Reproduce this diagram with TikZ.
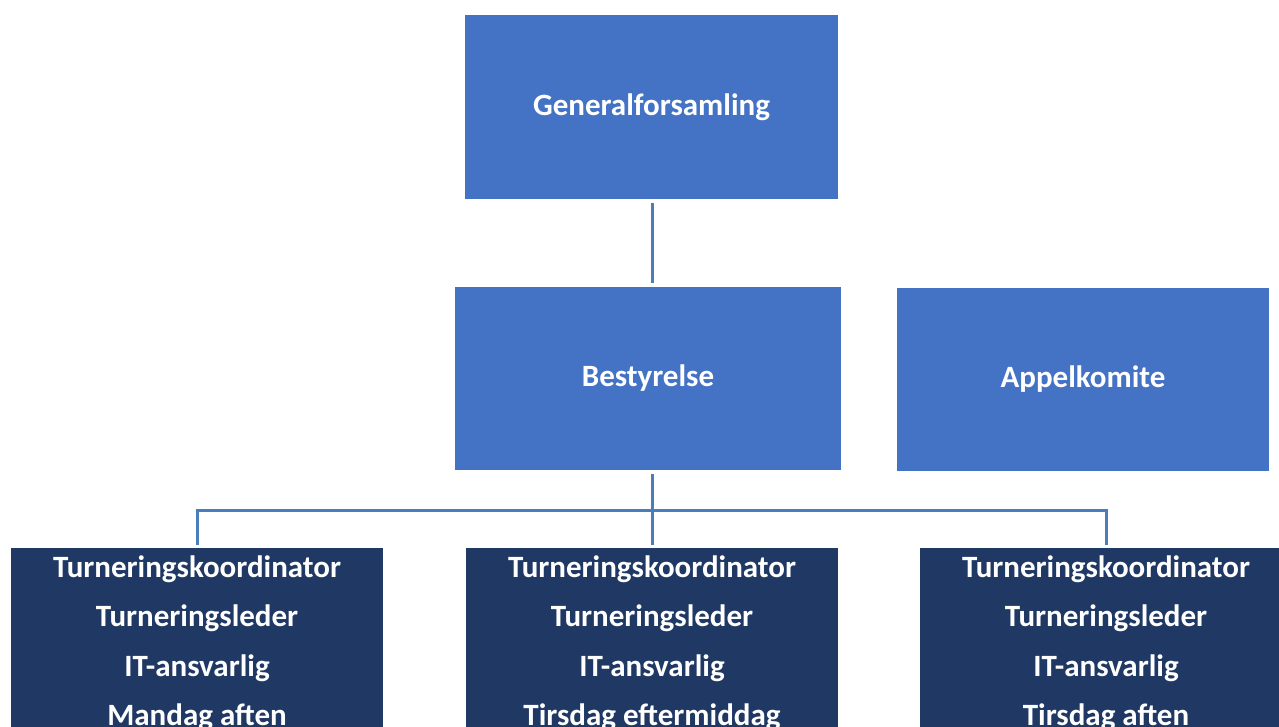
\documentclass[tikz,border=0pt]{standalone}
\usepackage{fontspec}
\setmainfont{Carlito}
\definecolor{boxblue}{HTML}{4472C4}
\definecolor{boxnavy}{HTML}{203864}
\definecolor{linkblue}{HTML}{4A7EBB}
\tikzset{
  topbox/.style={fill=boxblue, text=white, font=\bfseries\fontsize{31}{38}\selectfont, inner sep=0pt, minimum width=#1, minimum height=184pt},
  teambox/.style={fill=boxnavy, text=white, font=\bfseries\fontsize{31}{49.5}\selectfont, align=center, anchor=north, inner xsep=0pt, inner ysep=7.5pt, minimum width=372pt},
  link/.style={draw=linkblue, line width=3pt}
}
\begin{document}
\begin{tikzpicture}[x=1pt, y=-1pt]
\useasboundingbox (0,0) rectangle (1279,726);
\clip (0,0) rectangle (1279,726);

\node (gen) [topbox=373pt] at (651.5,107) {Generalforsamling};
\node (best) [topbox=386pt, minimum height=183pt] at (648,378.5) {Bestyrelse};
\node (appel) [topbox=372pt, minimum height=183pt] at (1083,379.5) {Appelkomite};

\node (mandag) [teambox] at (197,548) {Turneringskoordinator\\Turneringsleder\\IT-ansvarlig\\Mandag aften};
\node (tirsdagem) [teambox] at (652,548) {Turneringskoordinator\\Turneringsleder\\IT-ansvarlig\\Tirsdag eftermiddag};
\node (tirsdag) [teambox] at (1106,548) {Turneringskoordinator\\Turneringsleder\\IT-ansvarlig\\Tirsdag aften};

\coordinate (split) at (652,510);

\draw[link, shorten <=4pt, shorten >=4pt] (gen.south -| split) -- (best.north -| split);
\draw[link, shorten <=4pt, shorten >=3pt] (best.south -| split) -- (tirsdagem.north);
\draw[link, shorten <=3pt, shorten >=3pt] (mandag.north) |- (split) -| (tirsdag.north);
\end{tikzpicture}
\end{document}
